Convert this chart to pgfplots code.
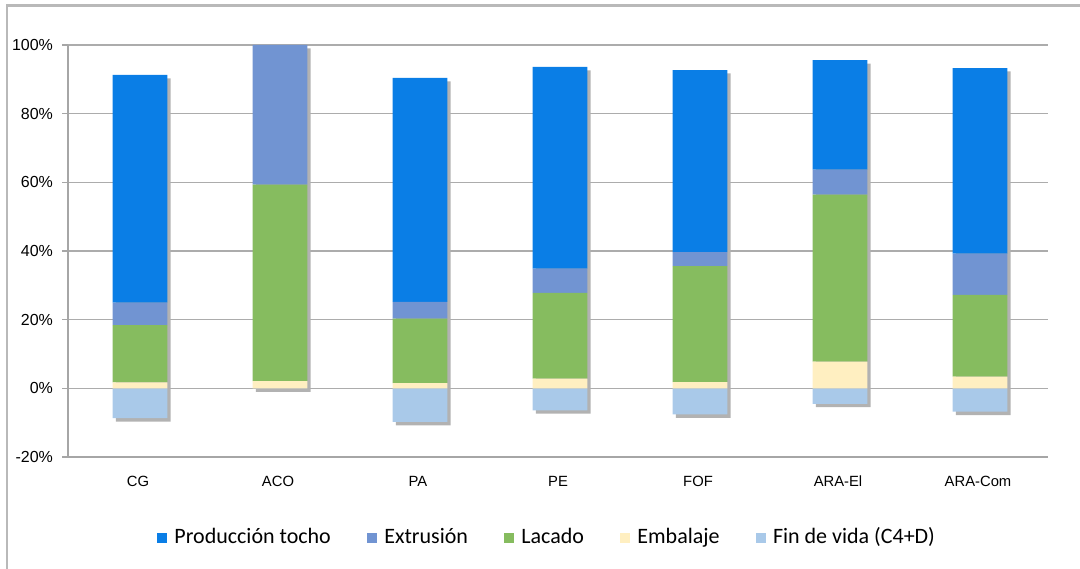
\documentclass[border=0pt]{standalone}
\usepackage{pgfplots}
\pgfplotsset{compat=1.18}
\usepackage{fontspec}
\setmainfont{Carlito}
\newfontfamily\arialf{Liberation Sans}
\definecolor{prod}{HTML}{0A7EE6}
\definecolor{extr}{HTML}{7194D2}
\definecolor{laca}{HTML}{86BC5F}
\definecolor{emba}{HTML}{FFEFC1}
\definecolor{finv}{HTML}{A9C9E9}
\begin{document}
\begin{tikzpicture}
\useasboundingbox (0,0) rectangle (540pt,284pt);
\draw[gray!55, line width=1.2pt] (3.5pt,-20pt) rectangle (560pt,281.3pt);
% axis 1: grid, ticks, shadows, negative bars
\begin{axis}[
  at={(34pt,55.5pt)}, anchor=south west, scale only axis,
  width=490pt, height=206pt,
  xmin=-0.5, xmax=6.5, ymin=-20, ymax=100,
  ybar, bar width=0.39,
  axis lines*=left,
  axis line style={gray!70, line width=0.6pt},
  ymajorgrids, grid style={gray!65, line width=0.8pt},
  ytick={-20,0,20,40,60,80,100},
  yticklabel={\pgfmathprintnumber{\tick}\%},
  /pgf/number format/assume math mode=true,
  yticklabel style={font=\arialf\fontsize{8}{9}\selectfont, xshift=-1pt},
  ytick style={gray!70, line width=0.6pt},
  tick align=outside, major tick length=3pt,
  xtick={0,1,2,3,4,5,6},
  xticklabels={CG,ACO,PA,PE,FOF,ARA-El,ARA-Com},
  xticklabel style={font=\arialf\fontsize{7.4}{9}\selectfont, yshift=-3pt},
  xtick style={draw=none},
]
\addplot[fill=black!30, draw=none, bar shift=2.6pt] coordinates {(0,90.3) (1,99) (2,89.4) (3,92.6) (4,91.7) (5,94.6) (6,92.3)};
\addplot[fill=black!30, draw=none, bar shift=2.6pt] coordinates {(0,-9.7) (1,-1.0) (2,-10.8) (3,-7.4) (4,-8.6) (5,-5.5) (6,-7.8)};
\addplot[fill=finv, draw=none, bar shift=1pt] coordinates {(0,-8.7) (1,0) (2,-9.8) (3,-6.4) (4,-7.6) (5,-4.5) (6,-6.8)};
\end{axis}
% axis 2: stacked positive bars + legend
\begin{axis}[
  at={(34pt,55.5pt)}, anchor=south west, scale only axis,
  width=490pt, height=206pt,
  xmin=-0.5, xmax=6.5, ymin=-20, ymax=100,
  ybar stacked, bar width=0.39, bar shift=1pt,
  hide axis,
  legend columns=5,
  legend style={at={(0.4898,-0.196)}, anchor=center, draw=none, fill=none,
    font=\fontsize{11}{13}\selectfont,
    nodes={text height=1.75ex, text depth=0.5ex},
    /tikz/every odd column/.append style={column sep=1.5pt},
    /tikz/every even column/.append style={column sep=16pt}},
  legend image code/.code={\path[#1] (0pt,-2.6pt) rectangle (5.2pt,2.6pt);},
]
\addplot[fill=emba, draw=none, forget plot] coordinates {(0,1.7) (1,2.1) (2,1.5) (3,2.8) (4,1.8) (5,7.8) (6,3.4)};
\addplot[fill=laca, draw=none, forget plot] coordinates {(0,16.7) (1,57.2) (2,18.8) (3,25.0) (4,33.8) (5,48.6) (6,23.8)};
\addplot[fill=extr, draw=none, forget plot] coordinates {(0,6.6) (1,40.7) (2,4.9) (3,7.1) (4,4.1) (5,7.3) (6,12.0)};
\addplot[fill=prod, draw=none, forget plot] coordinates {(0,66.3) (1,0) (2,65.2) (3,58.7) (4,53.0) (5,31.9) (6,54.1)};
\addlegendimage{fill=prod, draw=none}
\addlegendentry{Producción tocho}
\addlegendimage{fill=extr, draw=none}
\addlegendentry{Extrusión}
\addlegendimage{fill=laca, draw=none}
\addlegendentry{Lacado}
\addlegendimage{fill=emba, draw=none}
\addlegendentry{Embalaje}
\addlegendimage{fill=finv, draw=none}
\addlegendentry{Fin de vida (C4+D)}
\end{axis}
\end{tikzpicture}
\end{document}
